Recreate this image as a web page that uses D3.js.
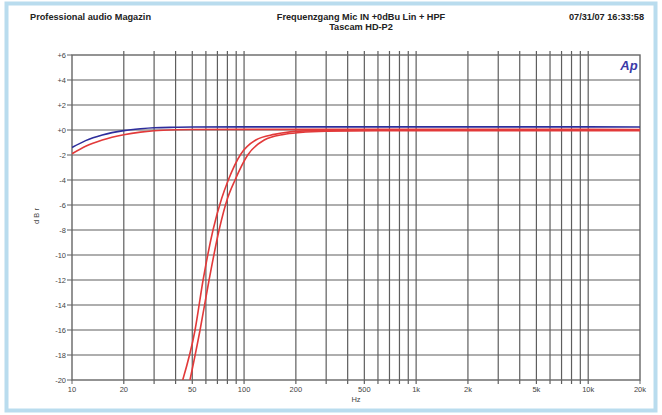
<!DOCTYPE html>
<html><head><meta charset="utf-8">
<script src="https://cdn.jsdelivr.net/npm/d3@7"></script>
<style>body{margin:0;background:#fff}svg{display:block}text{font-family:"Liberation Sans",Arial,sans-serif}</style>
</head><body>
<svg id="c" width="662" height="415"></svg>
<script>
const titleLeft = "Professional audio Magazin";
const titleCenter1 = "Frequenzgang Mic IN +0dBu Lin + HPF";
const titleCenter2 = "Tascam HD-P2";
const titleRight = "07/31/07 16:33:58";
const xTickValues = [10,20,50,100,200,500,1000,2000,5000,10000,20000];
const xTickLabels = ["10","20","50","100","200","500","1k","2k","5k","10k","20k"];
const yTickValues = [6,4,2,0,-2,-4,-6,-8,-10,-12,-14,-16,-18,-20];
const yTickLabels = ["+6","+4","+2","+0","-2","-4","-6","-8","-10","-12","-14","-16","-18","-20"];

const fullFreq = [10,12,15,20,25,30,40,50,100,1000,10000,20000];
const blueDb   = [-1.4,-0.85,-0.4,-0.05,0.1,0.18,0.22,0.24,0.25,0.25,0.25,0.24];
const redFullDb= [-1.9,-1.3,-0.8,-0.38,-0.17,-0.06,0.02,0.04,0.05,0.05,0.05,0.04];

const hpf1Freq = [44,51.9,57.8,66,74,81,95,117,150,185,250,500,1000,5000,20000];
const hpf1Db   = [-20,-16,-12,-8,-5.5,-4,-2,-0.8,-0.35,-0.15,-0.05,0,0,0,0];
const hpf2Freq = [48.5,55.5,62.6,71.6,80,88.6,105,131,170,212,300,600,1000,5000,20000];
const hpf2Db   = [-20,-16,-12,-8,-5.5,-4,-2,-0.8,-0.35,-0.2,-0.1,-0.06,-0.06,-0.06,-0.06];

const svg = d3.select("#c");
const L=72, R=640, T=55, B=380;
const x = d3.scaleLog().domain([10,20000]).range([L,R]);
const y = d3.scaleLinear().domain([-20,6]).range([B,T]);

// outer frame
svg.append("rect").attr("x",6.5).attr("y",3.5).attr("width",649).attr("height",407)
  .attr("fill","none").attr("stroke","#b9dcee").attr("stroke-width",4);

// titles
function title(tx, ty, anchor, s){
  svg.append("text").attr("x",tx).attr("y",ty).attr("text-anchor",anchor)
    .attr("fill","#222").attr("font-size","9.2px").attr("font-weight","600").text(s);
}
title(30,20,"start",titleLeft);
title(361,20,"middle",titleCenter1);
title(361,30,"middle",titleCenter2);
title(644,20,"end",titleRight);

// grid
const minorX = [];
for (let d=10; d<20000; d*=10) for (let k=1;k<10;k++){ const f=d*k; if(f>10 && f<20000) minorX.push(f); }
const g = svg.append("g");
g.selectAll(".vx").data(minorX).join("line")
  .attr("x1",d=>x(d)).attr("x2",d=>x(d)).attr("y1",T-4).attr("y2",B+4)
  .attr("stroke","#5e5e5e").attr("stroke-width",1.2);
g.selectAll(".hy").data(yTickValues.slice(1,-1)).join("line")
  .attr("x1",L-5).attr("x2",R).attr("y1",d=>y(d)).attr("y2",d=>y(d))
  .attr("stroke","#5e5e5e").attr("stroke-width",1.2);
// frame of plot
svg.append("rect").attr("x",L).attr("y",T).attr("width",R-L).attr("height",B-T)
  .attr("fill","none").attr("stroke","#666").attr("stroke-width",1.4);
svg.selectAll(".ty").data([6,-20]).join("line").attr("x1",L-5).attr("x2",L).attr("y1",d=>y(d)).attr("y2",d=>y(d)).attr("stroke","#666");
svg.selectAll(".tx").data([10,20000]).join("line").attr("x1",d=>x(d)).attr("x2",d=>x(d)).attr("y1",B).attr("y2",B+4).attr("stroke","#666");

// tick labels
svg.selectAll(".yl").data(yTickValues).join("text")
  .attr("x",L-6).attr("y",d=>y(d)+2.8).attr("text-anchor","end")
  .attr("font-size","7.5px").attr("fill","#444").text((d,i)=>yTickLabels[i]);
svg.selectAll(".xl").data(xTickValues).join("text")
  .attr("x",d=>x(d)).attr("y",B+12).attr("text-anchor","middle")
  .attr("font-size","7.5px").attr("fill","#444").text((d,i)=>xTickLabels[i]);
svg.append("text").attr("x",356).attr("y",402).attr("text-anchor","middle").attr("font-size","7.5px").attr("fill","#444").text("Hz");
svg.append("text").attr("transform","translate(39,216) rotate(-90)").attr("text-anchor","middle").attr("font-size","7.5px").attr("fill","#444").text("d B r");

// Ap logo
svg.append("text").attr("x",629).attr("y",70).attr("text-anchor","middle").attr("font-size","13px")
  .attr("font-weight","bold").attr("font-style","italic").attr("fill","#3a3aa8").text("Ap");

// curves
svg.append("clipPath").attr("id","clp").append("rect").attr("x",L).attr("y",T).attr("width",R-L).attr("height",B-T);
const line = d3.line().x(d=>x(d[0])).y(d=>y(d[1])).curve(d3.curveMonotoneX);
const cg = svg.append("g").attr("clip-path","url(#clp)");
function draw(fr, db, col){
  cg.append("path").datum(fr.map((f,i)=>[f,db[i]])).attr("d",line)
    .attr("fill","none").attr("stroke",col).attr("stroke-width",1.6);
}
draw(hpf1Freq,hpf1Db,"#e23a3a");
draw(hpf2Freq,hpf2Db,"#e23a3a");
draw(fullFreq,redFullDb,"#e23a3a");
draw(fullFreq,blueDb,"#2d2d9c");
</script>
</body></html>
